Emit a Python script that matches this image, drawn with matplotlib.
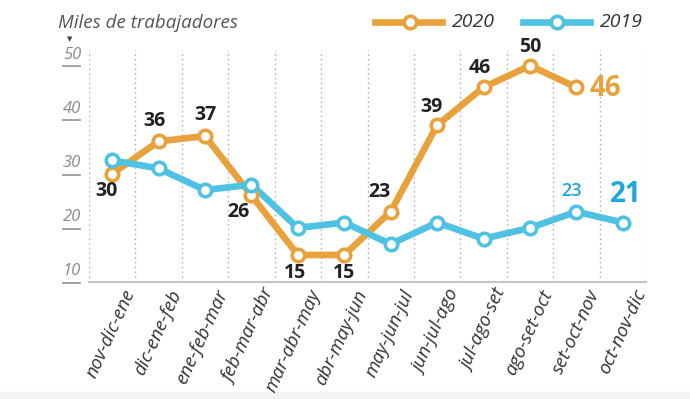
import matplotlib
matplotlib.use("Agg")
import matplotlib.pyplot as plt
import numpy as np
from matplotlib.lines import Line2D

# Rolling three-month periods
periods = ["nov-dic-ene", "dic-ene-feb", "ene-feb-mar", "feb-mar-abr", "mar-abr-may",
           "abr-may-jun", "may-jun-jul", "jun-jul-ago", "jul-ago-set", "ago-set-oct",
           "set-oct-nov", "oct-nov-dic"]
# Thousands of workers
values_2020 = [30, 36, 37, 26, 15, 15, 23, 39, 46, 50, 46]
values_2019 = [32.5, 31, 27, 28, 20, 21, 17, 21, 18, 20, 23, 21]
y_ticks = [10, 20, 30, 40, 50]

ORANGE = "#E9A23B"
BLUE = "#4FC1E3"
BLUE_TXT = "#1FA6DA"
DARK = "#222222"
GRAY = "#8a8a8a"
FONT = "Open Sans"

W, H = 690, 399
fig = plt.figure(figsize=(W / 100, H / 100), dpi=100)
fig.patch.set_facecolor("white")

def fx(px):
    return px / W

def fy(py):
    return 1 - py / H

ax = fig.add_axes([fx(89), fy(282), fx(646) - fx(89), fy(50) - fy(282)])
ax.set_xlim(-0.5, len(periods) - 0.5)
ax.set_ylim(10, 52.9)
ax.set_facecolor("none")
for s in ["top", "right", "left"]:
    ax.spines[s].set_visible(False)
ax.spines["bottom"].set_color("#c4c4c4")
ax.spines["bottom"].set_linewidth(1.5)
ax.set_yticks([])

# dotted separators between periods
for xg in np.arange(-0.5, len(periods), 1.0):
    ax.axvline(xg, color="#b5b5b5", lw=1.0, ls=(0, (1.2, 2.2)), zorder=0)

x20 = np.arange(len(values_2020))
x19 = np.arange(len(values_2019))

ax.plot(x20, values_2020, color=ORANGE, lw=4.8, solid_capstyle="round", zorder=2)
ax.plot(x19, values_2019, color=BLUE, lw=4.8, solid_capstyle="round", zorder=3)
ax.plot(x20, values_2020, ls="none", marker="o", ms=9, mfc="white", mec=ORANGE,
        mew=2.6, zorder=4)
ax.plot(x19, values_2019, ls="none", marker="o", ms=9, mfc="white", mec=BLUE,
        mew=2.6, zorder=4)

# value labels for 2020
offsets_2020 = [(-6, -17), (-4, 20), (0, 21), (-13, -17), (-3, -18), (0, -18),
                (-11, 20), (-6, 18), (-4, 19), (0, 19)]
for i, (dx, dy) in enumerate(offsets_2020):
    ax.annotate(f"{values_2020[i]}", (x20[i], values_2020[i]), xytext=(dx, dy),
                textcoords="offset pixels", ha="center", va="center",
                fontsize=14, fontweight="bold", color=DARK, family=FONT, zorder=5)
last = len(values_2020) - 1
ax.annotate(f"{values_2020[last]}", (x20[last], values_2020[last]), xytext=(13, -1),
            textcoords="offset pixels", ha="left", va="center",
            fontsize=20, fontweight="bold", color=ORANGE, family=FONT, zorder=5)

# value labels for 2019
ax.annotate(f"{values_2019[10]}", (x19[10], values_2019[10]), xytext=(-5, 21),
            textcoords="offset pixels", ha="center", va="center",
            fontsize=13, fontweight="semibold", color=BLUE_TXT, family=FONT, zorder=5)
ax.annotate(f"{values_2019[11]}", (x19[11], values_2019[11]), xytext=(3, 28),
            textcoords="offset pixels", ha="center", va="center",
            fontsize=20, fontweight="bold", color=BLUE_TXT, family=FONT, zorder=5)

# x tick labels
ax.set_xticks(np.arange(len(periods)))
ax.set_xticklabels([])
ax.tick_params(axis="x", length=0)
for i, lab in enumerate(periods):
    ax.annotate(lab, (i, 10), xytext=(10, -5), textcoords="offset pixels",
                ha="right", va="top", rotation=65.5, rotation_mode="anchor",
                fontsize=13.5, style="italic", color="#333333", family=FONT,
                annotation_clip=False)

# y tick labels with short underline
for v in y_ticks:
    ax.annotate(f"{v}", (-0.5, v), xytext=(-17, 11), textcoords="offset pixels",
                ha="center", va="center", fontsize=12, style="italic",
                color=GRAY, family=FONT, annotation_clip=False)
    ax.add_line(Line2D([fx(63), fx(80)], [fy(283 - (v - 10) * 5.42)] * 2,
                       transform=fig.transFigure, color="#9a9a9a", lw=1.3,
                       clip_on=False))

# unit title
fig.text(fx(58), fy(23), "Miles de trabajadores", ha="left", va="center",
         fontsize=13.5, style="italic", color="#555555", family=FONT)
fig.text(fx(70), fy(39), "\u25BC", ha="center", va="center", fontsize=5,
         color="#444444", family="DejaVu Sans")

# legend
for (x0, x1, xc, xt, col, lab) in [(375, 442, 410, 452, ORANGE, "2020"),
                                   (523, 590, 557, 600, BLUE, "2019")]:
    fig.add_artist(Line2D([fx(x0), fx(x1)], [fy(22), fy(22)], color=col, lw=4.8,
                          transform=fig.transFigure))
    fig.add_artist(Line2D([fx(xc)], [fy(22)], marker="o", ms=9, mfc="white",
                          mec=col, mew=2.6, transform=fig.transFigure))
    fig.text(fx(xt), fy(22), lab, ha="left", va="center", fontsize=14,
             style="italic", color="#333333", family=FONT)

# light strip along the bottom edge
fig.add_artist(plt.Rectangle((0, 0), 1, fy(392), transform=fig.transFigure,
                             color="#f3f3f3", zorder=-1))

fig.savefig("out.png", dpi=100)
